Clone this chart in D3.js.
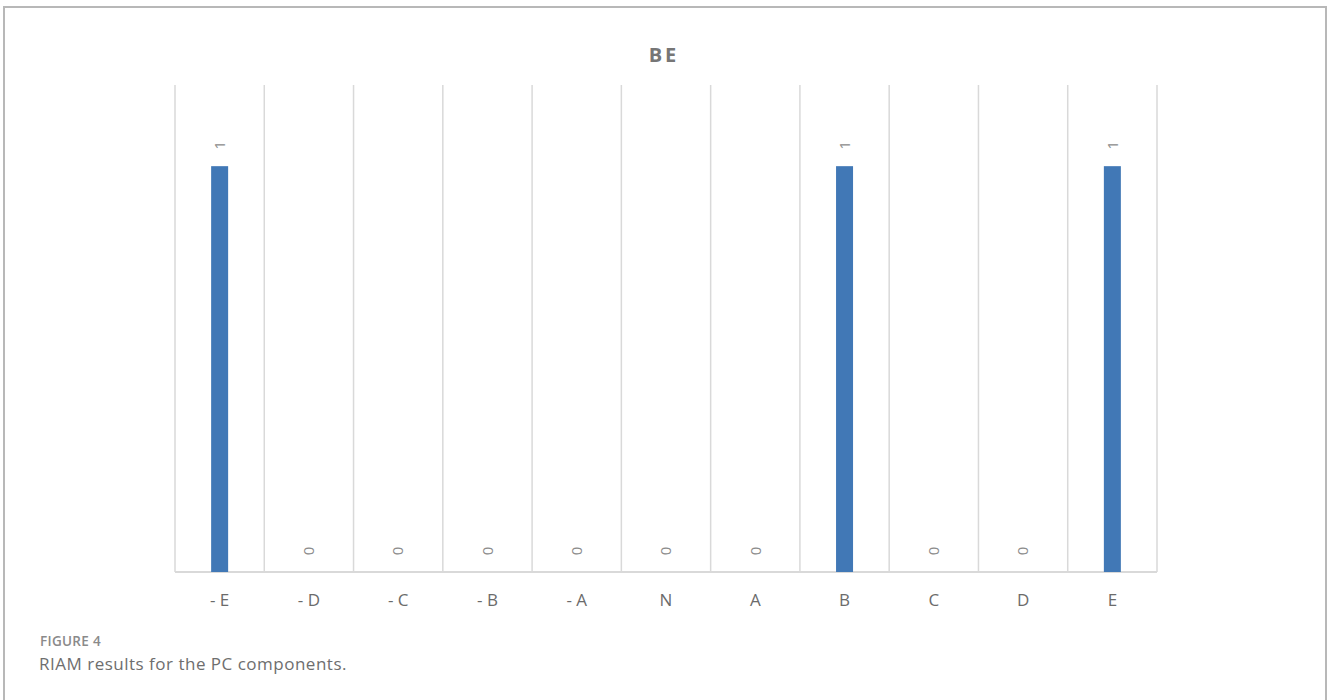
<!DOCTYPE html>
<html>
<head>
<meta charset="utf-8">
<script src="https://cdn.jsdelivr.net/npm/d3@7"></script>
<style>
  html, body { margin: 0; padding: 0; background: #fff; }
  svg { display: block; }
</style>
</head>
<body>
<script>
// Impact-class categories and the count of components in each
const categories = ["- E", "- D", "- C", "- B", "- A", "N", "A", "B", "C", "D", "E"];
const counts = [1, 0, 0, 0, 0, 0, 0, 1, 0, 0, 1];
const chartTitle = "BE";
const figureLabel = "FIGURE 4";
const figureCaption = "RIAM results for the PC components.";

const W = 1328, H = 700;
const svg = d3.select("body").append("svg").attr("width", W).attr("height", H);

// Frame around the figure (top, left, right)
svg.append("path")
  .attr("d", `M4,${H} L4,7 L1326,7 L1326,${H}`)
  .attr("fill", "none").attr("stroke", "#b8b8b8").attr("stroke-width", 2);

const plot = { left: 175, right: 1157, top: 85, bottom: 572 };

const x = d3.scaleBand().domain(categories).range([plot.left, plot.right]).padding(0);
const y = d3.scaleLinear().domain([0, 1.2]).range([plot.bottom, plot.top]);

// Vertical gridlines at category boundaries
const bounds = categories.map(c => x(c)).concat([x(categories[categories.length - 1]) + x.bandwidth()]);
svg.append("g").selectAll("line").data(bounds).join("line")
  .attr("x1", d => d).attr("x2", d => d)
  .attr("y1", plot.top).attr("y2", plot.bottom)
  .attr("stroke", "#d9d9d9").attr("stroke-width", 1.5);

// Baseline axis
svg.append("line")
  .attr("x1", plot.left).attr("x2", plot.right)
  .attr("y1", plot.bottom).attr("y2", plot.bottom)
  .attr("stroke", "#d9d9d9").attr("stroke-width", 2);

// Bars
const barW = 17;
svg.append("g").selectAll("rect").data(categories).join("rect")
  .attr("x", (c) => x(c) + x.bandwidth() / 2 - barW / 2)
  .attr("width", barW)
  .attr("y", (c, i) => y(counts[i]))
  .attr("height", (c, i) => y(0) - y(counts[i]))
  .attr("fill", "#4178b6");

// Rotated value labels above bars
svg.append("g").selectAll("text").data(categories).join("text")
  .attr("transform", (c, i) => {
    const cx = x(c) + x.bandwidth() / 2;
    const cy = y(counts[i]) - 21;
    return `translate(${cx},${cy}) rotate(-90)`;
  })
  .attr("text-anchor", "middle")
  .attr("dy", "0.35em")
  .attr("font-family", "'Open Sans', sans-serif")
  .attr("font-size", 15)
  .attr("fill", "#8c8c8c")
  .text((c, i) => counts[i]);

// Category labels
const xAxis = d3.axisBottom(x).tickSize(0).tickPadding(22);
const gx = svg.append("g").attr("transform", `translate(0,${plot.bottom})`).call(xAxis);
gx.select(".domain").remove();
gx.selectAll("text")
  .attr("font-family", "'Open Sans', sans-serif")
  .attr("font-size", 17)
  .attr("fill", "#6b6b6b");

// Chart title
svg.append("text")
  .attr("x", 664).attr("y", 62)
  .attr("text-anchor", "middle")
  .attr("font-family", "'Open Sans', sans-serif")
  .attr("font-weight", "bold")
  .attr("font-size", 20)
  .attr("letter-spacing", 3)
  .attr("fill", "#767676")
  .text(chartTitle);

// Figure caption
svg.append("text")
  .attr("x", 40).attr("y", 646)
  .attr("font-family", "'Open Sans', sans-serif")
  .attr("font-weight", 600)
  .attr("font-size", 13.5)
  .attr("letter-spacing", 0.3)
  .attr("fill", "#8a8a8a")
  .text(figureLabel);

svg.append("text")
  .attr("x", 39).attr("y", 670)
  .attr("font-family", "'Open Sans', sans-serif")
  .attr("font-size", 17)
  .attr("letter-spacing", 0.5)
  .attr("fill", "#6e6e6e")
  .text(figureCaption);
</script>
</body>
</html>
